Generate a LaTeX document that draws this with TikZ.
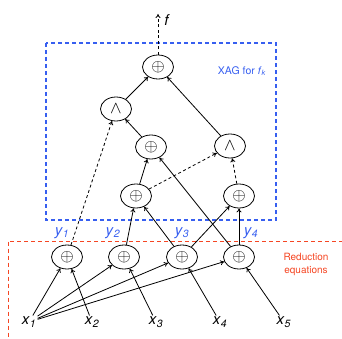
\documentclass[tikz,border=0pt]{standalone}
\usepackage{fontspec}
\setmainfont{TeX Gyre Heros}
\usetikzlibrary{shapes.geometric,arrows.meta,positioning}
\definecolor{xagblue}{RGB}{55,95,240}
\definecolor{redeq}{RGB}{245,70,35}
\newcommand{\invar}[2]{\textit{#1}\textsubscript{\textit{#2}}}

\begin{document}
\begin{tikzpicture}[x=1pt, y=-1pt, line width=0.8pt,
    gate/.style={ellipse, draw, minimum width=31pt, minimum height=24pt, inner sep=0pt, font=\fontsize{17}{18}\selectfont},
    var/.style={inner sep=1pt, font=\fontsize{15}{17}\selectfont},
    edge/.style={-{To[length=4pt,width=5pt]}},
    compl/.style={edge, dashed, dash pattern=on 3pt off 2.5pt}]
    \clip (0,0) rectangle (342,339);

    % boxes
    \draw[xagblue, line width=1.1pt, dash pattern=on 4pt off 3pt] (46,43) rectangle (276,220);
    \draw[redeq, line width=1.1pt, dash pattern=on 4pt off 3pt] (8.5,241.5) rectangle (352,352);
    \node[xagblue, font=\fontsize{10.5}{12}\selectfont] (xaglabel) at (242,71) {XAG for \invar{f}{k}};
    \node[redeq, align=center, font=\fontsize{10}{13}\selectfont] (redlabel) at (306,264) {Reduction\\equations};

    % XAG
    \node[gate] (top) at (158,67) {$\oplus$};
    \node[gate] (andl) at (116,109) {$\wedge$};
    \node[gate] (xorm) at (151,147) {$\oplus$};
    \node[gate] (andr) at (230,146) {$\wedge$};
    \node[gate] (xorll) at (136,196) {$\oplus$};
    \node[gate] (xorlr) at (239,196) {$\oplus$};
    \coordinate (out) at (158,14);
    \node[var, anchor=west] (f) at (163,20) {\textit{f}};

    % reduction equations
    \node[gate] (b1) at (67,257) {$\oplus$};
    \node[gate] (b2) at (124,257) {$\oplus$};
    \node[gate] (b3) at (182,257) {$\oplus$};
    \node[gate] (b4) at (239,257) {$\oplus$};

    \node[var, xagblue] (y1) at (62,233) {\invar{y}{1}};
    \node[var, xagblue] (y2) at (113,233) {\invar{y}{2}};
    \node[var, xagblue] (y3) at (182,233) {\invar{y}{3}};
    \node[var, xagblue] (y4) at (251,233) {\invar{y}{4}};

    \node[var] (x1) at (29,322) {\invar{x}{1}};
    \node[var] (x2) at (92,322) {\invar{x}{2}};
    \node[var] (x3) at (156,322) {\invar{x}{3}};
    \node[var] (x4) at (220,322) {\invar{x}{4}};
    \node[var] (x5) at (284,322) {\invar{x}{5}};

    \draw[compl] (top) -- (out);
    \draw[edge] (andl) -- (top);
    \draw[edge] (andr) -- (top);
    \draw[edge] (xorm) -- (andl);
    \draw[compl] (b1) -- (andl);
    \draw[edge] (xorll) -- (xorm);
    \draw[edge] (b4) -- (xorm);
    \draw[compl] (xorll) -- (andr);
    \draw[compl] (xorlr) -- (andr);
    \draw[edge] (b2) -- (xorll);
    \draw[edge] (b3) -- (xorll);
    \draw[edge] (b3) -- (xorlr);
    \draw[edge] (b4) -- (xorlr);

    \draw[edge] (x1) -- (b1);
    \draw[edge] (x1) -- (b2);
    \draw[edge] (x1) -- (b3);
    \draw[edge] (x1) -- (b4);
    \draw[edge] (x2) -- (b1);
    \draw[edge] (x3) -- (b2);
    \draw[edge] (x4) -- (b3);
    \draw[edge] (x5) -- (b4);
\end{tikzpicture}
\end{document}
